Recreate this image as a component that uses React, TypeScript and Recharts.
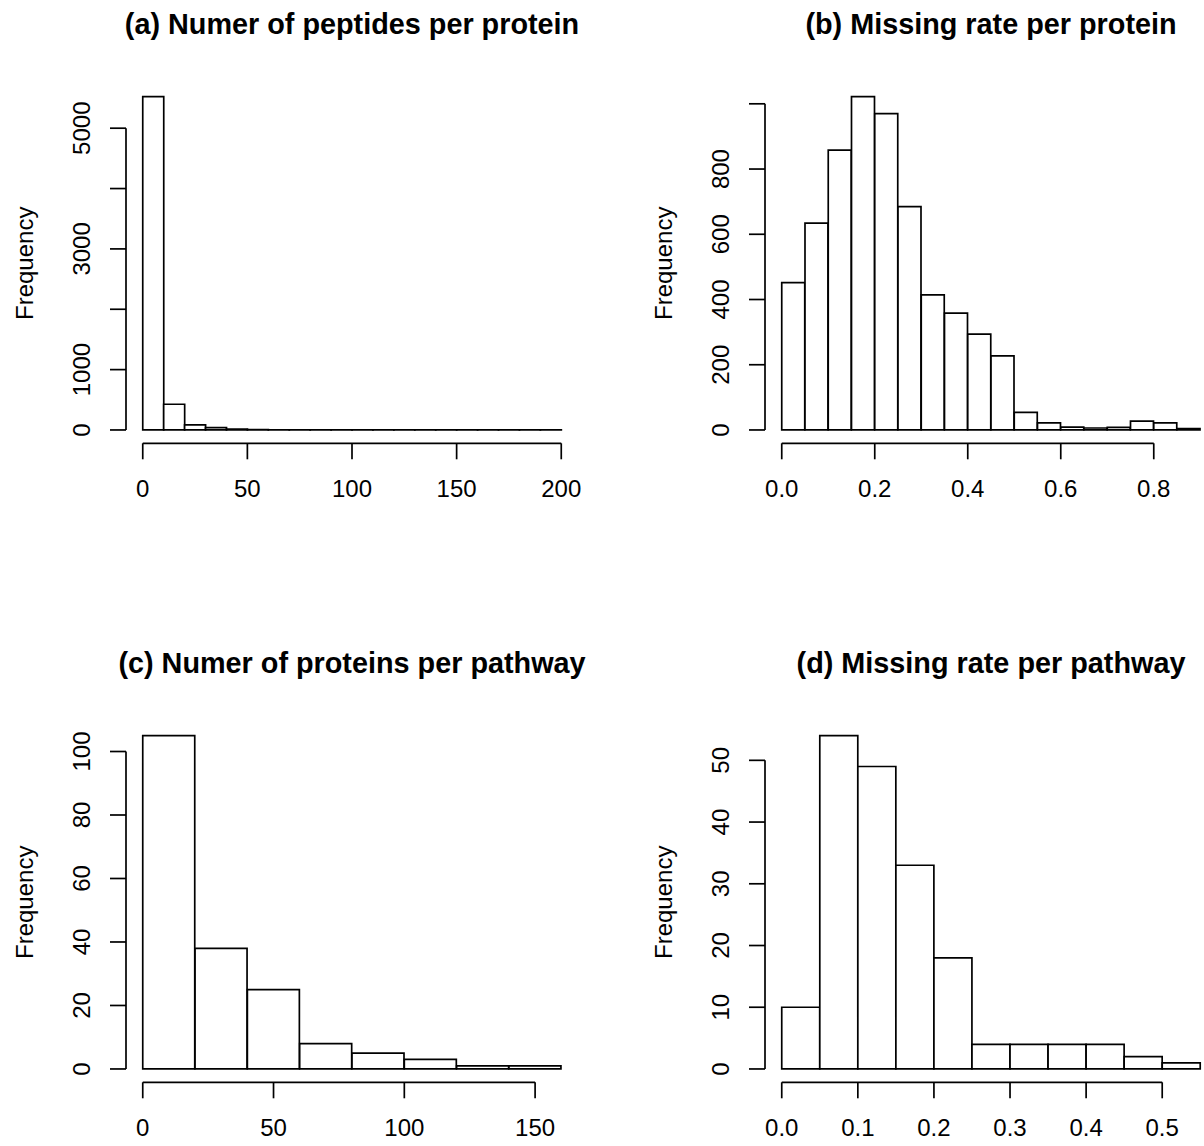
import { BarChart, Bar, XAxis, YAxis, ReferenceLine } from 'recharts';

// (a) number of peptides per protein
const peptideBreaks = [0, 10, 20, 30, 40, 50, 60, 70, 80, 90, 100, 110, 120, 130, 140, 150, 160, 170, 180, 190, 200];
const peptideCounts = [5523, 426, 83, 38, 15, 6, 4, 3, 2, 2, 1, 1, 1, 1, 1, 1, 3, 1, 1, 3];
const peptideXTicks = [0, 50, 100, 150, 200];
const peptideYTicks = [0, 1000, 2000, 3000, 4000, 5000];
const peptideYLabels = [0, 1000, 3000, 5000];

// (b) missing rate per protein
const protMissBreaks = [0, 0.05, 0.1, 0.15, 0.2, 0.25, 0.3, 0.35, 0.4, 0.45, 0.5, 0.55, 0.6, 0.65, 0.7, 0.75, 0.8, 0.85, 0.9];
const protMissCounts = [452, 634, 858, 1022, 970, 685, 414, 358, 294, 227, 54, 22, 9, 6, 8, 27, 22, 4];
const protMissXTicks = [0, 0.2, 0.4, 0.6, 0.8];
const protMissYTicks = [0, 200, 400, 600, 800, 1000];
const protMissYLabels = [0, 200, 400, 600, 800];

// (c) number of proteins per pathway
const proteinBreaks = [0, 20, 40, 60, 80, 100, 120, 140, 160];
const proteinCounts = [105, 38, 25, 8, 5, 3, 1, 1];
const proteinXTicks = [0, 50, 100, 150];
const proteinYTicks = [0, 20, 40, 60, 80, 100];

// (d) missing rate per pathway
const pathMissBreaks = [0, 0.05, 0.1, 0.15, 0.2, 0.25, 0.3, 0.35, 0.4, 0.45, 0.5, 0.55];
const pathMissCounts = [10, 54, 49, 33, 18, 4, 4, 4, 4, 2, 1];
const pathMissXTicks = [0, 0.1, 0.2, 0.3, 0.4, 0.5];
const pathMissYTicks = [0, 10, 20, 30, 40, 50];

const FONT = '"Liberation Sans", Arial, Helvetica, sans-serif';
const LW = 1.7;

const YTick = (props: any) => {
  const { x, y, payload, shown } = props;
  if (!shown.includes(payload.value)) return <g />;
  const bx = x - 20;
  return (
    <text x={bx} y={y} transform={`rotate(-90, ${bx}, ${y})`} textAnchor="middle"
      fontSize={24} fontFamily={FONT} fill="#000">
      {payload.value}
    </text>
  );
};

const XTick = (props: any) => {
  const { x, y, payload, digits } = props;
  return (
    <text x={x} y={y + 38} textAnchor="middle" fontSize={24} fontFamily={FONT} fill="#000">
      {Number(payload.value).toFixed(digits)}
    </text>
  );
};

interface PanelProps {
  left: number;
  top: number;
  title: string;
  breaks: number[];
  counts: number[];
  xTicks: number[];
  xDigits: number;
  yTicks: number[];
  yLabels: number[];
}

const HistPanel = ({ left, top, title, breaks, counts, xTicks, xDigits, yTicks, yLabels }: PanelProps) => {
  const data = counts.map((count, i) => ({ mid: (breaks[i] + breaks[i + 1]) / 2, count }));
  const xLo = breaks[0];
  const xHi = breaks[breaks.length - 1];
  const xPad = (xHi - xLo) * 0.04;
  const yMax = Math.max(...counts);
  const yPad = yMax * 0.04;
  const xDomain = [xLo - xPad, xHi + xPad];
  const yDomain = [-yPad, yMax + yPad];

  return (
    <div style={{ position: 'absolute', left, top, width: 639, height: 639 }}>
      <BarChart
        width={639}
        height={639}
        data={data}
        margin={{ top: 83.3, right: 61, left: 0, bottom: 135.7 }}
        barCategoryGap={0}
        barGap={0}
      >
        <XAxis
          dataKey="mid"
          type="number"
          domain={xDomain}
          ticks={xTicks}
          allowDataOverflow
          axisLine={false}
          tickLine={{ stroke: '#000', strokeWidth: LW }}
          tickSize={16}
          tickMargin={0}
          height={60}
          interval={0}
          tick={<XTick digits={xDigits} />}
        />
        <YAxis
          type="number"
          domain={yDomain}
          ticks={yTicks}
          allowDataOverflow
          axisLine={false}
          tickLine={{ stroke: '#000', strokeWidth: LW }}
          tickSize={16}
          tickMargin={0}
          width={126}
          interval={0}
          tick={<YTick shown={yLabels} />}
        />
        <Bar dataKey="count" fill="#fff" stroke="#000" strokeWidth={LW} isAnimationActive={false} />
        <ReferenceLine
          segment={[{ x: xTicks[0], y: yDomain[0] }, { x: xTicks[xTicks.length - 1], y: yDomain[0] }]}
          stroke="#000"
          strokeWidth={LW}
          ifOverflow="visible"
        />
        <ReferenceLine
          segment={[{ x: xDomain[0], y: yTicks[0] }, { x: xDomain[0], y: yTicks[yTicks.length - 1] }]}
          stroke="#000"
          strokeWidth={LW}
          ifOverflow="visible"
        />
      </BarChart>
      <svg width={639} height={639} style={{ position: 'absolute', left: 0, top: 0, pointerEvents: 'none' }}>
        <text x={352} y={34} textAnchor="middle" fontSize={28.8} fontWeight="bold" fontFamily={FONT} fill="#000">
          {title}
        </text>
        <text x={33} y={263.3} transform="rotate(-90, 33, 263.3)" textAnchor="middle" fontSize={24}
          fontFamily={FONT} fill="#000">
          Frequency
        </text>
      </svg>
    </div>
  );
};

export default function App() {
  return (
    <div style={{ position: 'absolute', left: 0, top: 0, width: 1204, height: 1146, overflow: 'hidden', background: '#fff' }}>
      <HistPanel left={0} top={0} title="(a) Numer of peptides per protein"
        breaks={peptideBreaks} counts={peptideCounts} xTicks={peptideXTicks} xDigits={0}
        yTicks={peptideYTicks} yLabels={peptideYLabels} />
      <HistPanel left={639} top={0} title="(b) Missing rate per protein"
        breaks={protMissBreaks} counts={protMissCounts} xTicks={protMissXTicks} xDigits={1}
        yTicks={protMissYTicks} yLabels={protMissYLabels} />
      <HistPanel left={0} top={638.7} title="(c) Numer of proteins per pathway"
        breaks={proteinBreaks} counts={proteinCounts} xTicks={proteinXTicks} xDigits={0}
        yTicks={proteinYTicks} yLabels={proteinYTicks} />
      <HistPanel left={639} top={638.7} title="(d) Missing rate per pathway"
        breaks={pathMissBreaks} counts={pathMissCounts} xTicks={pathMissXTicks} xDigits={1}
        yTicks={pathMissYTicks} yLabels={pathMissYTicks} />
    </div>
  );
}
